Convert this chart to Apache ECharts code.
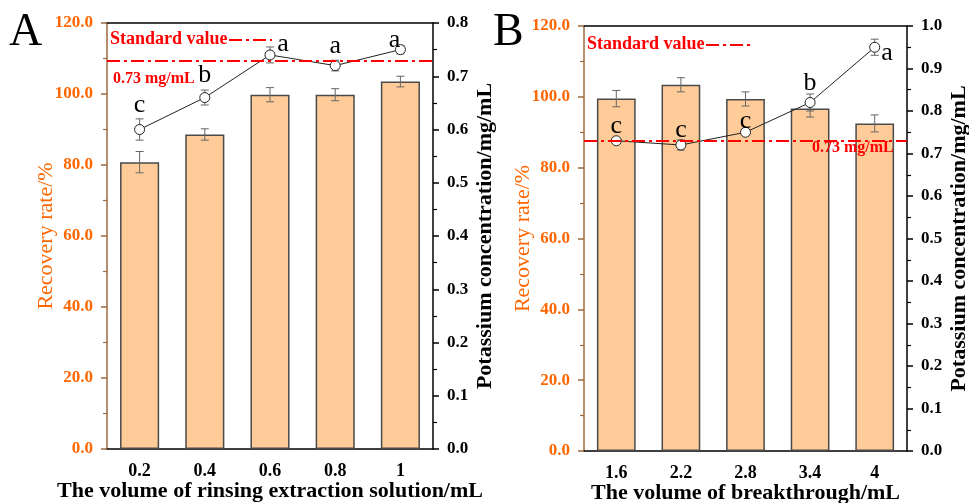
<!DOCTYPE html>
<html>
<head>
<meta charset="utf-8">
<script src="https://cdn.jsdelivr.net/npm/echarts@6/dist/echarts.min.js"></script>
<style>
html,body{margin:0;padding:0;background:#fff;}
#chart{width:969px;height:503px;}
</style>
</head>
<body>
<div id="chart"></div>
<script>
// panel A - rinsing extraction solution
var catsA = ['0.2', '0.4', '0.6', '0.8', '1'];
var recA = [80.8, 88.6, 99.8, 99.8, 103.5];
var recErrA = [3.0, 1.6, 2.0, 1.7, 1.5];
var concA = [0.60, 0.66, 0.74, 0.72, 0.75];
var concErrA = [0.02, 0.014, 0.015, 0.01, 0.008];
var lettersA = ['c', 'b', 'a', 'a', 'a'];

// panel B - breakthrough volume
var catsB = ['1.6', '2.2', '2.8', '3.4', '4'];
var recB = [99.5, 103.4, 99.4, 96.7, 92.5];
var recErrB = [2.3, 2.0, 2.0, 2.4, 2.4];
var concB = [0.73, 0.72, 0.75, 0.82, 0.95];
var concErrB = [0.005, 0.012, 0.005, 0.02, 0.019];
var lettersB = ['c', 'c', 'c', 'b', 'a'];

var standardConc = 0.73;
var recTicks = [0, 120, 20];
var concTicksA = [0, 0.8, 0.1];
var concTicksB = [0, 1.0, 0.1];

var SERIF = '"Liberation Serif", "DejaVu Serif", serif';
var ORANGE = '#FF6600';
var BROWN = '#9C6A3E';
var RED = '#FF0000';

// letter placement (styling only)
var letterPosA = [
	{position: 'top', offset: [0, -3]},
	{position: 'top', offset: [0, -1]},
	{position: 'top', offset: [13, 11]},
	{position: 'top', offset: [0, 2]},
	{position: 'top', offset: [-6, 12]}
];
var letterPosB = [
	{position: 'top', offset: [0, 7]},
	{position: 'top', offset: [0, 7]},
	{position: 'top', offset: [0, 10]},
	{position: 'top', offset: [0, 2]},
	{position: 'right', offset: [-2, 6]}
];

var chart = echarts.init(document.getElementById('chart'));

function errData(vals, errs) {
	var out = [];
	for (var i = 0; i < vals.length; i++) {
		out.push([i, vals[i] - errs[i], vals[i] + errs[i]]);
	}
	return out;
}

function errRender(params, api) {
	var x = api.value(0);
	var lo = api.coord([x, api.value(1)]);
	var hi = api.coord([x, api.value(2)]);
	var w = 4;
	var st = {stroke: '#666', lineWidth: 1};
	return {
		type: 'group',
		children: [
			{type: 'line', shape: {x1: hi[0], y1: hi[1], x2: lo[0], y2: lo[1]}, style: st},
			{type: 'line', shape: {x1: hi[0] - w, y1: hi[1], x2: hi[0] + w, y2: hi[1]}, style: st},
			{type: 'line', shape: {x1: lo[0] - w, y1: lo[1], x2: lo[0] + w, y2: lo[1]}, style: st}
		]
	};
}

function lineData(vals, letters, pos) {
	var out = [];
	for (var i = 0; i < vals.length; i++) {
		out.push({
			value: vals[i],
			label: {
				show: true,
				formatter: letters[i],
				position: pos[i].position,
				offset: pos[i].offset,
				distance: 3,
				color: '#000',
				fontFamily: SERIF,
				fontSize: 26
			}
		});
	}
	return out;
}

function xAxes(gi, cats, name) {
	return [
		{
			type: 'category', gridIndex: gi, data: cats, position: 'bottom',
			axisLine: {lineStyle: {color: '#000', width: 1.5}},
			axisTick: {alignWithLabel: true, length: 6, lineStyle: {color: '#000', width: 1.5}},
			axisLabel: {color: '#000', fontFamily: SERIF, fontWeight: 'bold', fontSize: 18, margin: 13},
			name: name, nameLocation: 'middle', nameGap: 31, nameMoveOverlap: false,
			nameTextStyle: {color: '#000', fontFamily: SERIF, fontWeight: 'bold', fontSize: 22}
		},
		{
			type: 'category', gridIndex: gi, data: cats, position: 'bottom',
			axisLine: {show: false},
			axisTick: {length: 4, lineStyle: {color: '#000', width: 1.2}},
			axisLabel: {show: false}
		},
		{
			type: 'category', gridIndex: gi, data: cats, position: 'top',
			axisLine: {lineStyle: {color: '#000', width: 1.5}},
			axisTick: {alignWithLabel: true, inside: true, length: 5, lineStyle: {color: '#000', width: 1.2}},
			axisLabel: {show: false}
		},
		{
			type: 'category', gridIndex: gi, data: cats, position: 'top',
			axisLine: {show: false},
			axisTick: {inside: true, length: 4, lineStyle: {color: '#000', width: 1.2}},
			axisLabel: {show: false}
		}
	];
}

function yAxes(gi, concTicks, leftGap) {
	return [
		{
			type: 'value', gridIndex: gi, position: 'left',
			min: recTicks[0], max: recTicks[1], interval: recTicks[2],
			splitLine: {show: false},
			axisLine: {show: true, lineStyle: {color: BROWN, width: 1.5}},
			axisTick: {show: true, length: 6, lineStyle: {color: BROWN, width: 1.5}},
			minorTick: {show: true, splitNumber: 2, length: 4, lineStyle: {color: BROWN, width: 1.2}},
			axisLabel: {
				color: ORANGE, fontFamily: SERIF, fontWeight: 'bold', fontSize: 17, margin: 14,
				formatter: function (v) { return v.toFixed(1); }
			},
			name: 'Recovery rate/%', nameLocation: 'middle', nameRotate: 90, nameGap: leftGap,
			nameMoveOverlap: false,
			nameTextStyle: {color: ORANGE, fontFamily: SERIF, fontSize: 22}
		},
		{
			type: 'value', gridIndex: gi, position: 'right',
			min: concTicks[0], max: concTicks[1], interval: concTicks[2],
			splitLine: {show: false},
			axisLine: {show: true, lineStyle: {color: '#000', width: 1.5}},
			axisTick: {show: true, length: 6, lineStyle: {color: '#000', width: 1.5}},
			minorTick: {show: true, splitNumber: 2, length: 4, lineStyle: {color: '#000', width: 1.2}},
			axisLabel: {
				color: '#000', fontFamily: SERIF, fontWeight: 'bold', fontSize: 17, margin: 14,
				formatter: function (v) { return v.toFixed(1); }
			},
			name: 'Potassium concentration/mg/mL', nameLocation: 'middle', nameRotate: 90, nameGap: 41,
			nameMoveOverlap: false,
			nameTextStyle: {color: '#000', fontFamily: SERIF, fontWeight: 'bold', fontSize: 22}
		}
	];
}

function panelSeries(xi, yi, rec, recErr, conc, concErr, letters, pos) {
	return [
		{
			type: 'bar', xAxisIndex: xi, yAxisIndex: yi, data: rec, barWidth: '60%', z: 2,
			itemStyle: {color: '#FFCC99', borderColor: '#4a4a4a', borderWidth: 1.5}
		},
		{
			type: 'custom', xAxisIndex: xi, yAxisIndex: yi, data: errData(rec, recErr),
			renderItem: errRender, encode: {x: 0, y: [1, 2]}, z: 3
		},
		{
			type: 'custom', xAxisIndex: xi, yAxisIndex: yi + 1, data: errData(conc, concErr),
			renderItem: errRender, encode: {x: 0, y: [1, 2]}, z: 4
		},
		{
			type: 'line', xAxisIndex: xi, yAxisIndex: yi + 1, data: lineData(conc, letters, pos), z: 5,
			symbol: 'circle', symbolSize: 10,
			itemStyle: {color: '#fff', borderColor: '#222', borderWidth: 1},
			lineStyle: {color: '#222', width: 1},
			markLine: {
				silent: true, symbol: 'none', z: 6,
				lineStyle: {color: RED, width: 2, type: [13, 4, 3, 4]},
				label: {show: false},
				data: [{yAxis: standardConc}]
			}
		}
	];
}

var option = {
	backgroundColor: '#fff',
	animation: false,
	grid: [
		{left: 107, right: 536, top: 23, bottom: 54, outerBoundsMode: 'none'},
		{left: 584, right: 62, top: 26, bottom: 52, outerBoundsMode: 'none'}
	],
	xAxis: xAxes(0, catsA, 'The volume of rinsing extraction solution/mL')
		.concat(xAxes(1, catsB, 'The volume of breakthrough/mL')),
	yAxis: yAxes(0, concTicksA, 50).concat(yAxes(1, concTicksB, 50)),
	series: panelSeries(0, 0, recA, recErrA, concA, concErrA, lettersA, letterPosA)
		.concat(panelSeries(4, 2, recB, recErrB, concB, concErrB, lettersB, letterPosB)),
	graphic: [
		{type: 'text', z: 100, left: 9, top: 10, style: {text: 'A', fontFamily: SERIF, fontSize: 46, fill: '#000'}},
		{type: 'text', z: 100, left: 493, top: 10, style: {text: 'B', fontFamily: SERIF, fontSize: 46, fill: '#000'}},
		{type: 'text', z: 100, left: 110, top: 30, style: {text: 'Standard value', fontFamily: SERIF, fontWeight: 'bold', fontSize: 18, fill: RED}},
		{type: 'line', z: 100, shape: {x1: 229, y1: 40, x2: 272, y2: 40}, style: {stroke: RED, lineWidth: 2, lineDash: [13, 4, 3, 4]}},
		{type: 'text', z: 100, left: 113, top: 71, style: {text: '0.73 mg/mL', fontFamily: SERIF, fontWeight: 'bold', fontSize: 16, fill: RED}},
		{type: 'text', z: 100, left: 587, top: 35, style: {text: 'Standard value', fontFamily: SERIF, fontWeight: 'bold', fontSize: 18, fill: RED}},
		{type: 'line', z: 100, shape: {x1: 706, y1: 45, x2: 750, y2: 45}, style: {stroke: RED, lineWidth: 2, lineDash: [13, 4, 3, 4]}},
		{type: 'text', z: 100, left: 812, top: 140, style: {text: '0.73 mg/mL', fontFamily: SERIF, fontWeight: 'bold', fontSize: 16, fill: RED}}
	]
};

chart.setOption(option);
</script>
</body>
</html>
